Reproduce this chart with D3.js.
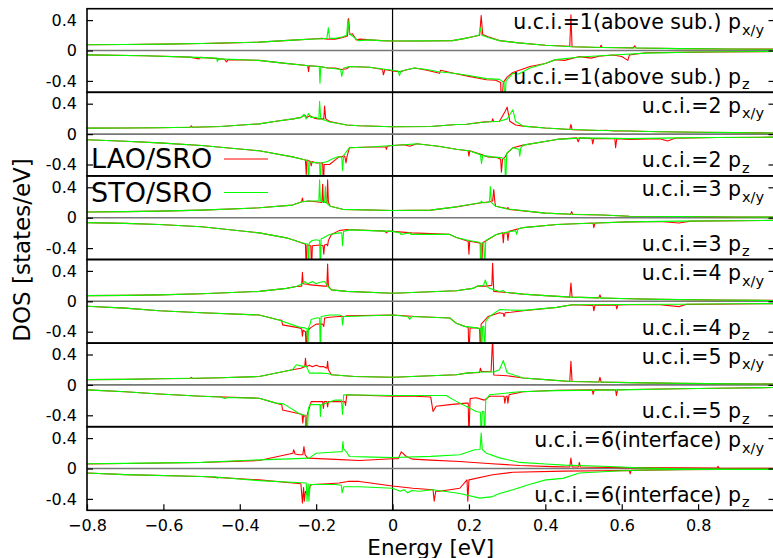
<!DOCTYPE html>
<html>
<head>
<meta charset="utf-8">
<script src="https://cdnjs.cloudflare.com/ajax/libs/d3/7.8.5/d3.min.js"></script>
<style>
body { margin: 0; background: #fff; }
svg { display: block; font-family: 'DejaVu Sans', sans-serif; }
</style>
</head>
<body>
<svg id="chart" width="773" height="558"></svg>
<script>
var energyTicks = [-0.8, -0.6, -0.4, -0.2, 0, 0.2, 0.4, 0.6, 0.8];
var dosTicks = [-0.4, 0, 0.4];
var layerNames = ['u.c.i.=1(above sub.)', 'u.c.i.=2', 'u.c.i.=3', 'u.c.i.=4', 'u.c.i.=5', 'u.c.i.=6(interface)'];
var seriesNames = ['LAO/SRO', 'STO/SRO'];
var seriesColors = ['#ff0000', '#00ff00'];

// [energy, DOS] pairs, pz stored as drawn (negative)
var lao_pxy_1 = [[-0.8,0.075],[-0.7,0.078],[-0.6,0.084],[-0.5,0.092],[-0.45,0.097],[-0.35,0.11],[-0.25,0.14],[-0.2,0.155],[-0.185,0.16],[-0.17,0.15],[-0.15,0.15],[-0.13,0.17],[-0.118,0.19],[-0.115,0.42],[-0.112,0.21],[-0.105,0.22],[-0.095,0.14],[-0.085,0.15],[-0.06,0.14],[-0.03,0.13],[0,0.125],[0.08,0.125],[0.157,0.13],[0.19,0.16],[0.21,0.18],[0.228,0.2],[0.232,0.46],[0.236,0.21],[0.25,0.18],[0.28,0.13],[0.33,0.1],[0.4,0.07],[0.464,0.055],[0.467,0.47],[0.47,0.05],[0.543,0.04],[0.546,0.07],[0.549,0.04],[0.63,0.035],[0.634,0.06],[0.638,0.033],[0.75,0.025],[0.88,0.02],[1.0,0.018]];
var sto_pxy_1 = [[-0.8,0.075],[-0.7,0.079],[-0.6,0.084],[-0.5,0.093],[-0.45,0.098],[-0.35,0.11],[-0.25,0.14],[-0.19,0.155],[-0.172,0.16],[-0.168,0.3],[-0.165,0.16],[-0.15,0.16],[-0.13,0.18],[-0.12,0.2],[-0.117,0.41],[-0.113,0.22],[-0.108,0.2],[-0.1,0.17],[-0.09,0.13],[-0.06,0.14],[-0.03,0.13],[0,0.125],[0.08,0.126],[0.157,0.13],[0.19,0.16],[0.21,0.18],[0.226,0.2],[0.23,0.3],[0.234,0.2],[0.25,0.17],[0.28,0.13],[0.33,0.1],[0.4,0.07],[0.47,0.05],[0.55,0.04],[0.65,0.032],[0.75,0.025],[0.88,0.02],[1.0,0.016]];
var lao_pz_1 = [[-0.8,-0.057],[-0.65,-0.07],[-0.53,-0.087],[-0.507,-0.11],[-0.503,-0.09],[-0.44,-0.115],[-0.435,-0.15],[-0.43,-0.12],[-0.35,-0.13],[-0.28,-0.17],[-0.23,-0.195],[-0.222,-0.2],[-0.22,-0.28],[-0.218,-0.2],[-0.19,-0.21],[-0.17,-0.23],[-0.15,-0.23],[-0.134,-0.25],[-0.12,-0.24],[-0.113,-0.21],[-0.06,-0.22],[-0.026,-0.25],[-0.024,-0.32],[-0.02,-0.25],[0,-0.27],[0.02,-0.28],[0.04,-0.25],[0.058,-0.23],[0.09,-0.26],[0.123,-0.3],[0.126,-0.26],[0.16,-0.3],[0.2,-0.34],[0.246,-0.385],[0.27,-0.39],[0.283,-0.42],[0.285,-0.75],[0.29,-0.42],[0.3,-0.35],[0.315,-0.29],[0.36,-0.21],[0.4,-0.17],[0.427,-0.12],[0.45,-0.13],[0.49,-0.08],[0.52,-0.1],[0.54,-0.075],[0.577,-0.06],[0.6,-0.08],[0.616,-0.13],[0.62,-0.06],[0.663,-0.03],[0.75,-0.025],[0.85,-0.02],[1.0,-0.013]];
var sto_pz_1 = [[-0.8,-0.057],[-0.65,-0.07],[-0.53,-0.087],[-0.46,-0.1],[-0.459,-0.145],[-0.455,-0.11],[-0.35,-0.13],[-0.28,-0.17],[-0.22,-0.2],[-0.192,-0.21],[-0.19,-0.43],[-0.188,-0.21],[-0.17,-0.23],[-0.15,-0.24],[-0.136,-0.25],[-0.133,-0.34],[-0.128,-0.23],[-0.113,-0.21],[-0.06,-0.22],[-0.03,-0.24],[0,-0.26],[0.015,-0.27],[0.018,-0.33],[0.022,-0.27],[0.04,-0.25],[0.058,-0.23],[0.09,-0.25],[0.12,-0.28],[0.16,-0.3],[0.2,-0.33],[0.246,-0.37],[0.28,-0.38],[0.292,-0.42],[0.294,-0.75],[0.297,-0.4],[0.315,-0.3],[0.33,-0.31],[0.36,-0.23],[0.4,-0.17],[0.427,-0.12],[0.49,-0.085],[0.577,-0.06],[0.663,-0.035],[0.8,-0.02],[1.0,-0.013]];

var lao_pxy_2 = [[-0.8,0.079],[-0.7,0.08],[-0.611,0.083],[-0.53,0.09],[-0.527,0.11],[-0.524,0.09],[-0.45,0.1],[-0.349,0.135],[-0.305,0.17],[-0.26,0.2],[-0.239,0.22],[-0.23,0.25],[-0.225,0.22],[-0.215,0.24],[-0.205,0.21],[-0.195,0.2],[-0.18,0.2],[-0.178,0.37],[-0.175,0.2],[-0.165,0.165],[-0.12,0.12],[-0.087,0.11],[0,0.096],[0.1,0.1],[0.167,0.127],[0.194,0.13],[0.236,0.158],[0.26,0.165],[0.262,0.2],[0.265,0.165],[0.28,0.17],[0.295,0.3],[0.3,0.355],[0.307,0.17],[0.322,0.12],[0.342,0.105],[0.4,0.08],[0.464,0.06],[0.467,0.127],[0.47,0.058],[0.54,0.048],[0.56,0.05],[0.58,0.04],[0.62,0.04],[0.7,0.03],[0.8,0.025],[0.9,0.02],[1.0,0.015]];
var sto_pxy_2 = [[-0.8,0.079],[-0.7,0.08],[-0.611,0.083],[-0.5,0.093],[-0.45,0.1],[-0.349,0.135],[-0.305,0.17],[-0.26,0.2],[-0.239,0.22],[-0.232,0.26],[-0.226,0.2],[-0.22,0.27],[-0.214,0.22],[-0.2,0.22],[-0.193,0.2],[-0.191,0.43],[-0.188,0.2],[-0.175,0.18],[-0.165,0.16],[-0.12,0.12],[-0.087,0.11],[0,0.096],[0.1,0.1],[0.167,0.127],[0.194,0.13],[0.236,0.155],[0.28,0.17],[0.3,0.2],[0.31,0.28],[0.315,0.32],[0.322,0.17],[0.342,0.105],[0.4,0.08],[0.47,0.06],[0.55,0.048],[0.62,0.04],[0.7,0.03],[0.8,0.024],[0.9,0.019],[1.0,0.014]];
var lao_pz_2 = [[-0.8,-0.075],[-0.7,-0.095],[-0.611,-0.115],[-0.5,-0.15],[-0.349,-0.22],[-0.262,-0.3],[-0.236,-0.33],[-0.228,-0.34],[-0.226,-0.53],[-0.224,-0.34],[-0.215,-0.36],[-0.213,-0.42],[-0.211,-0.36],[-0.2,-0.38],[-0.183,-0.38],[-0.181,-0.7],[-0.179,-0.4],[-0.165,-0.4],[-0.15,-0.34],[-0.14,-0.3],[-0.125,-0.29],[-0.122,-0.38],[-0.119,-0.29],[-0.113,-0.18],[-0.06,-0.17],[-0.018,-0.17],[-0.016,-0.2],[-0.014,-0.16],[0,-0.15],[0.03,-0.14],[0.045,-0.16],[0.063,-0.128],[0.12,-0.16],[0.167,-0.2],[0.198,-0.22],[0.2,-0.29],[0.202,-0.22],[0.233,-0.27],[0.25,-0.3],[0.275,-0.31],[0.283,-0.33],[0.285,-0.5],[0.288,-0.33],[0.295,-0.3],[0.3,-0.25],[0.315,-0.18],[0.342,-0.145],[0.43,-0.07],[0.482,-0.05],[0.486,-0.1],[0.49,-0.05],[0.522,-0.06],[0.524,-0.13],[0.527,-0.06],[0.582,-0.06],[0.584,-0.18],[0.587,-0.06],[0.62,-0.07],[0.7,-0.06],[0.72,-0.09],[0.74,-0.055],[0.85,-0.045],[1.0,-0.04]];
var sto_pz_2 = [[-0.8,-0.075],[-0.7,-0.095],[-0.611,-0.115],[-0.5,-0.15],[-0.349,-0.22],[-0.262,-0.3],[-0.236,-0.33],[-0.222,-0.35],[-0.22,-0.7],[-0.218,-0.36],[-0.21,-0.38],[-0.2,-0.37],[-0.191,-0.38],[-0.189,-0.7],[-0.187,-0.38],[-0.17,-0.36],[-0.16,-0.33],[-0.145,-0.3],[-0.133,-0.3],[-0.131,-0.48],[-0.128,-0.28],[-0.113,-0.18],[-0.06,-0.17],[0,-0.15],[0.03,-0.14],[0.063,-0.128],[0.12,-0.16],[0.167,-0.2],[0.2,-0.22],[0.23,-0.27],[0.233,-0.39],[0.236,-0.28],[0.26,-0.3],[0.285,-0.31],[0.294,-0.33],[0.296,-0.7],[0.299,-0.25],[0.315,-0.18],[0.331,-0.2],[0.333,-0.29],[0.336,-0.18],[0.342,-0.145],[0.43,-0.07],[0.5,-0.05],[0.62,-0.06],[0.75,-0.05],[0.85,-0.045],[1.0,-0.04]];

var lao_pxy_3 = [[-0.8,0.075],[-0.7,0.08],[-0.611,0.087],[-0.5,0.1],[-0.349,0.13],[-0.262,0.166],[-0.238,0.21],[-0.236,0.26],[-0.234,0.21],[-0.22,0.22],[-0.2,0.21],[-0.185,0.2],[-0.183,0.44],[-0.181,0.2],[-0.172,0.2],[-0.17,0.5],[-0.168,0.2],[-0.163,0.15],[-0.131,0.11],[0,0.095],[0.1,0.1],[0.167,0.143],[0.233,0.196],[0.255,0.21],[0.262,0.22],[0.265,0.37],[0.268,0.2],[0.27,0.15],[0.3,0.12],[0.302,0.135],[0.305,0.11],[0.4,0.06],[0.466,0.045],[0.469,0.08],[0.472,0.043],[0.55,0.035],[0.62,0.02],[0.75,0.015],[0.9,0.01],[1.0,0.008]];
var sto_pxy_3 = [[-0.8,0.075],[-0.7,0.08],[-0.611,0.087],[-0.5,0.1],[-0.349,0.13],[-0.262,0.166],[-0.236,0.21],[-0.22,0.22],[-0.2,0.22],[-0.193,0.22],[-0.191,0.5],[-0.189,0.22],[-0.178,0.2],[-0.176,0.41],[-0.174,0.2],[-0.163,0.15],[-0.131,0.11],[0,0.095],[0.1,0.1],[0.167,0.143],[0.23,0.196],[0.233,0.22],[0.236,0.196],[0.25,0.2],[0.254,0.22],[0.256,0.41],[0.259,0.2],[0.27,0.15],[0.3,0.115],[0.4,0.06],[0.47,0.045],[0.55,0.035],[0.62,0.02],[0.75,0.015],[0.9,0.01],[1.0,0.007]];
var lao_pz_3 = [[-0.8,-0.065],[-0.7,-0.075],[-0.611,-0.09],[-0.5,-0.12],[-0.349,-0.2],[-0.278,-0.265],[-0.244,-0.32],[-0.228,-0.35],[-0.226,-0.7],[-0.224,-0.36],[-0.214,-0.37],[-0.212,-0.7],[-0.21,-0.37],[-0.19,-0.36],[-0.182,-0.37],[-0.18,-0.48],[-0.178,-0.36],[-0.172,-0.35],[-0.17,-0.37],[-0.168,-0.3],[-0.16,-0.22],[-0.14,-0.17],[-0.12,-0.155],[-0.02,-0.176],[-0.016,-0.2],[-0.012,-0.176],[0,-0.18],[0.05,-0.2],[0.15,-0.22],[0.167,-0.26],[0.198,-0.31],[0.2,-0.48],[0.202,-0.31],[0.224,-0.33],[0.231,-0.34],[0.233,-0.7],[0.236,-0.33],[0.246,-0.3],[0.272,-0.22],[0.288,-0.2],[0.29,-0.33],[0.292,-0.2],[0.3,-0.2],[0.302,-0.3],[0.305,-0.18],[0.342,-0.13],[0.43,-0.09],[0.525,-0.07],[0.527,-0.13],[0.53,-0.07],[0.62,-0.055],[0.7,-0.05],[0.75,-0.07],[0.78,-0.045],[0.9,-0.04],[1.0,-0.035]];
var sto_pz_3 = [[-0.8,-0.065],[-0.7,-0.075],[-0.611,-0.09],[-0.5,-0.12],[-0.349,-0.2],[-0.278,-0.265],[-0.244,-0.32],[-0.222,-0.35],[-0.22,-0.7],[-0.218,-0.33],[-0.21,-0.3],[-0.2,-0.29],[-0.191,-0.3],[-0.189,-0.7],[-0.187,-0.28],[-0.165,-0.22],[-0.14,-0.2],[-0.133,-0.2],[-0.131,-0.37],[-0.128,-0.18],[-0.113,-0.16],[0,-0.18],[0.02,-0.2],[0.022,-0.22],[0.045,-0.2],[0.048,-0.22],[0.15,-0.22],[0.167,-0.26],[0.2,-0.3],[0.224,-0.32],[0.229,-0.33],[0.231,-0.7],[0.234,-0.33],[0.239,-0.33],[0.241,-0.7],[0.244,-0.3],[0.272,-0.22],[0.3,-0.19],[0.322,-0.17],[0.325,-0.22],[0.328,-0.15],[0.342,-0.13],[0.43,-0.09],[0.535,-0.07],[0.62,-0.055],[0.75,-0.045],[0.9,-0.04],[1.0,-0.035]];

var lao_pxy_4 = [[-0.8,0.075],[-0.7,0.078],[-0.611,0.085],[-0.5,0.1],[-0.349,0.13],[-0.278,0.17],[-0.252,0.195],[-0.238,0.2],[-0.236,0.38],[-0.234,0.23],[-0.22,0.22],[-0.2,0.21],[-0.18,0.2],[-0.172,0.2],[-0.17,0.49],[-0.168,0.2],[-0.16,0.15],[-0.12,0.13],[0,0.105],[0.167,0.138],[0.21,0.17],[0.223,0.2],[0.245,0.2],[0.26,0.21],[0.262,0.5],[0.265,0.13],[0.29,0.12],[0.342,0.095],[0.4,0.075],[0.464,0.055],[0.467,0.24],[0.47,0.055],[0.54,0.045],[0.543,0.085],[0.546,0.043],[0.62,0.033],[0.7,0.025],[0.85,0.018],[1.0,0.012]];
var sto_pxy_4 = [[-0.8,0.075],[-0.7,0.078],[-0.611,0.085],[-0.5,0.1],[-0.349,0.13],[-0.278,0.17],[-0.252,0.195],[-0.236,0.23],[-0.23,0.26],[-0.222,0.23],[-0.21,0.26],[-0.2,0.23],[-0.19,0.25],[-0.178,0.26],[-0.17,0.2],[-0.16,0.15],[-0.12,0.13],[0,0.105],[0.167,0.138],[0.21,0.17],[0.223,0.2],[0.238,0.21],[0.243,0.28],[0.248,0.19],[0.254,0.17],[0.28,0.13],[0.29,0.14],[0.295,0.12],[0.342,0.095],[0.4,0.075],[0.47,0.055],[0.54,0.045],[0.62,0.033],[0.7,0.025],[0.85,0.017],[1.0,0.011]];
var lao_pz_4 = [[-0.8,-0.065],[-0.7,-0.09],[-0.611,-0.125],[-0.5,-0.15],[-0.349,-0.18],[-0.3,-0.243],[-0.29,-0.25],[-0.288,-0.31],[-0.244,-0.35],[-0.238,-0.36],[-0.236,-0.46],[-0.234,-0.38],[-0.228,-0.4],[-0.226,-0.7],[-0.224,-0.4],[-0.215,-0.35],[-0.2,-0.3],[-0.183,-0.3],[-0.18,-0.33],[-0.178,-0.22],[-0.165,-0.21],[-0.14,-0.2],[-0.125,-0.2],[-0.12,-0.19],[0,-0.18],[0.06,-0.2],[0.15,-0.22],[0.167,-0.29],[0.189,-0.33],[0.198,-0.34],[0.2,-0.7],[0.203,-0.35],[0.22,-0.35],[0.228,-0.36],[0.23,-0.7],[0.232,-0.3],[0.25,-0.2],[0.28,-0.15],[0.29,-0.16],[0.292,-0.2],[0.295,-0.15],[0.31,-0.145],[0.342,-0.125],[0.43,-0.08],[0.47,-0.046],[0.525,-0.055],[0.527,-0.125],[0.53,-0.05],[0.585,-0.05],[0.587,-0.1],[0.59,-0.048],[0.62,-0.046],[0.7,-0.045],[0.75,-0.07],[0.77,-0.04],[0.9,-0.035],[1.0,-0.03]];
var sto_pz_4 = [[-0.8,-0.065],[-0.7,-0.09],[-0.611,-0.125],[-0.5,-0.15],[-0.349,-0.18],[-0.3,-0.243],[-0.244,-0.34],[-0.23,-0.35],[-0.224,-0.36],[-0.222,-0.7],[-0.22,-0.35],[-0.216,-0.3],[-0.213,-0.24],[-0.2,-0.22],[-0.191,-0.22],[-0.189,-0.7],[-0.187,-0.2],[-0.165,-0.18],[-0.14,-0.18],[-0.133,-0.19],[-0.131,-0.31],[-0.128,-0.2],[-0.12,-0.2],[0,-0.18],[0.04,-0.2],[0.045,-0.24],[0.05,-0.2],[0.15,-0.22],[0.167,-0.29],[0.189,-0.33],[0.22,-0.35],[0.231,-0.36],[0.233,-0.7],[0.236,-0.33],[0.239,-0.33],[0.241,-0.7],[0.244,-0.26],[0.254,-0.2],[0.28,-0.11],[0.342,-0.12],[0.43,-0.08],[0.47,-0.046],[0.6,-0.042],[0.75,-0.038],[0.9,-0.033],[1.0,-0.03]];

var lao_pxy_5 = [[-0.8,0.07],[-0.7,0.073],[-0.611,0.08],[-0.53,0.085],[-0.527,0.1],[-0.524,0.085],[-0.45,0.095],[-0.349,0.11],[-0.262,0.2],[-0.24,0.22],[-0.23,0.24],[-0.228,0.35],[-0.226,0.24],[-0.218,0.26],[-0.21,0.24],[-0.2,0.26],[-0.19,0.24],[-0.18,0.24],[-0.172,0.22],[-0.17,0.31],[-0.168,0.2],[-0.16,0.133],[-0.1,0.11],[0,0.1],[0.167,0.133],[0.194,0.155],[0.228,0.165],[0.23,0.22],[0.233,0.175],[0.258,0.18],[0.262,0.62],[0.265,0.13],[0.3,0.12],[0.342,0.09],[0.4,0.07],[0.464,0.045],[0.467,0.31],[0.47,0.045],[0.54,0.038],[0.543,0.1],[0.546,0.036],[0.62,0.03],[0.75,0.02],[0.9,0.015],[1.0,0.012]];
var sto_pxy_5 = [[-0.8,0.07],[-0.7,0.073],[-0.611,0.08],[-0.45,0.095],[-0.349,0.11],[-0.262,0.2],[-0.252,0.265],[-0.24,0.25],[-0.225,0.24],[-0.218,0.155],[-0.19,0.155],[-0.17,0.15],[-0.16,0.133],[-0.1,0.11],[0,0.1],[0.167,0.133],[0.194,0.155],[0.233,0.17],[0.265,0.17],[0.28,0.2],[0.29,0.32],[0.3,0.16],[0.342,0.09],[0.4,0.07],[0.47,0.045],[0.54,0.038],[0.62,0.03],[0.75,0.02],[0.9,0.014],[1.0,0.011]];
var lao_pz_5 = [[-0.8,-0.065],[-0.7,-0.09],[-0.611,-0.12],[-0.5,-0.15],[-0.349,-0.175],[-0.305,-0.24],[-0.29,-0.26],[-0.288,-0.33],[-0.244,-0.38],[-0.237,-0.39],[-0.235,-0.5],[-0.233,-0.4],[-0.228,-0.42],[-0.226,-0.7],[-0.224,-0.4],[-0.213,-0.22],[-0.19,-0.22],[-0.183,-0.22],[-0.181,-0.31],[-0.179,-0.22],[-0.172,-0.22],[-0.17,-0.29],[-0.168,-0.22],[-0.125,-0.22],[-0.123,-0.27],[-0.12,-0.13],[0,-0.15],[0.058,-0.15],[0.1,-0.16],[0.106,-0.35],[0.114,-0.28],[0.15,-0.26],[0.193,-0.24],[0.198,-0.24],[0.2,-0.7],[0.203,-0.18],[0.219,-0.17],[0.24,-0.2],[0.254,-0.15],[0.292,-0.15],[0.294,-0.24],[0.297,-0.15],[0.3,-0.15],[0.302,-0.24],[0.305,-0.13],[0.342,-0.09],[0.43,-0.07],[0.523,-0.065],[0.525,-0.125],[0.528,-0.065],[0.584,-0.065],[0.586,-0.14],[0.589,-0.063],[0.62,-0.06],[0.75,-0.05],[0.9,-0.04],[1.0,-0.035]];
var sto_pz_5 = [[-0.8,-0.065],[-0.7,-0.09],[-0.611,-0.12],[-0.5,-0.15],[-0.45,-0.16],[-0.44,-0.18],[-0.43,-0.165],[-0.349,-0.175],[-0.305,-0.24],[-0.285,-0.25],[-0.244,-0.38],[-0.228,-0.4],[-0.224,-0.7],[-0.22,-0.3],[-0.215,-0.26],[-0.19,-0.26],[-0.189,-0.415],[-0.187,-0.26],[-0.15,-0.2],[-0.134,-0.2],[-0.131,-0.39],[-0.128,-0.13],[0,-0.14],[0.1,-0.14],[0.14,-0.14],[0.168,-0.22],[0.2,-0.3],[0.219,-0.35],[0.23,-0.36],[0.232,-0.7],[0.235,-0.35],[0.239,-0.35],[0.241,-0.7],[0.244,-0.2],[0.254,-0.13],[0.333,-0.09],[0.429,-0.075],[0.6,-0.065],[0.75,-0.05],[0.9,-0.04],[1.0,-0.035]];

var lao_pxy_6 = [[-0.8,0.06],[-0.7,0.065],[-0.6,0.072],[-0.5,0.078],[-0.349,0.105],[-0.261,0.2],[-0.259,0.246],[-0.255,0.19],[-0.245,0.18],[-0.235,0.18],[-0.232,0.29],[-0.229,0.18],[-0.222,0.137],[-0.15,0.12],[-0.087,0.105],[0,0.128],[0.015,0.13],[0.023,0.22],[0.036,0.158],[0.053,0.123],[0.1,0.11],[0.176,0.092],[0.25,0.065],[0.333,0.04],[0.42,0.025],[0.464,0.02],[0.467,0.137],[0.47,0.02],[0.487,0.02],[0.489,0.08],[0.492,0.02],[0.6,0.012],[0.75,0.008],[0.85,0.005],[0.852,0.03],[0.855,0.005],[1.0,0.004]];
var sto_pxy_6 = [[-0.8,0.062],[-0.7,0.068],[-0.6,0.074],[-0.5,0.08],[-0.349,0.114],[-0.25,0.13],[-0.218,0.137],[-0.2,0.2],[-0.17,0.21],[-0.139,0.22],[-0.132,0.22],[-0.13,0.355],[-0.128,0.26],[-0.121,0.22],[-0.113,0.158],[-0.05,0.15],[0,0.145],[0.1,0.16],[0.176,0.18],[0.215,0.246],[0.229,0.25],[0.232,0.465],[0.235,0.25],[0.246,0.2],[0.28,0.14],[0.333,0.08],[0.4,0.06],[0.45,0.045],[0.55,0.03],[0.663,0.005],[0.75,-0.005],[0.88,-0.012],[1.0,-0.012]];
var lao_pz_6 = [[-0.8,-0.06],[-0.7,-0.08],[-0.5,-0.105],[-0.45,-0.12],[-0.349,-0.15],[-0.261,-0.19],[-0.24,-0.2],[-0.236,-0.455],[-0.233,-0.25],[-0.231,-0.43],[-0.228,-0.3],[-0.222,-0.35],[-0.215,-0.22],[-0.209,-0.21],[-0.17,-0.2],[-0.14,-0.19],[-0.117,-0.17],[-0.087,-0.17],[0,-0.23],[0.053,-0.26],[0.106,-0.28],[0.109,-0.43],[0.113,-0.3],[0.123,-0.3],[0.176,-0.26],[0.195,-0.15],[0.197,-0.43],[0.2,-0.15],[0.262,-0.083],[0.315,-0.05],[0.45,-0.035],[0.55,-0.03],[0.62,-0.025],[0.622,-0.07],[0.625,-0.025],[0.75,-0.015],[1.0,-0.01]];
var sto_pz_6 = [[-0.8,-0.06],[-0.7,-0.08],[-0.5,-0.105],[-0.462,-0.11],[-0.459,-0.13],[-0.455,-0.115],[-0.349,-0.16],[-0.226,-0.19],[-0.224,-0.43],[-0.221,-0.2],[-0.219,-0.43],[-0.216,-0.21],[-0.15,-0.21],[-0.134,-0.22],[-0.132,-0.32],[-0.128,-0.24],[-0.087,-0.24],[0,-0.26],[0.02,-0.3],[0.03,-0.28],[0.04,-0.32],[0.05,-0.29],[0.07,-0.3],[0.106,-0.28],[0.176,-0.33],[0.228,-0.39],[0.262,-0.37],[0.28,-0.33],[0.315,-0.28],[0.358,-0.21],[0.401,-0.15],[0.446,-0.13],[0.489,-0.06],[0.6,-0.03],[0.663,-0.02],[0.8,-0.012],[1.0,-0.01]];

var layers = [
  {name: layerNames[0], lao: [lao_pxy_1, lao_pz_1], sto: [sto_pxy_1, sto_pz_1]},
  {name: layerNames[1], lao: [lao_pxy_2, lao_pz_2], sto: [sto_pxy_2, sto_pz_2]},
  {name: layerNames[2], lao: [lao_pxy_3, lao_pz_3], sto: [sto_pxy_3, sto_pz_3]},
  {name: layerNames[3], lao: [lao_pxy_4, lao_pz_4], sto: [sto_pxy_4, sto_pz_4]},
  {name: layerNames[4], lao: [lao_pxy_5, lao_pz_5], sto: [sto_pxy_5, sto_pz_5]},
  {name: layerNames[5], lao: [lao_pxy_6, lao_pz_6], sto: [sto_pxy_6, sto_pz_6]}
];

var svg = d3.select('#chart');
var left = 87, right = 774.5, top0 = 8.7, bottom = 510.3;
var groupH = (bottom - top0) / layers.length;

var x = d3.scaleLinear().domain([-0.8, 1.0]).range([left, right]);

// Fermi level
svg.append('line')
    .attr('x1', x(0)).attr('x2', x(0))
    .attr('y1', top0).attr('y2', bottom)
    .attr('stroke', '#000').attr('stroke-width', 1.2);

layers.forEach(function(layer, i) {
  var t = top0 + i * groupH;
  var y = d3.scaleLinear().domain([-0.55, 0.55]).range([t + groupH, t]);
  var line = d3.line().x(function(d) { return x(d[0]) }).y(function(d) { return y(d[1]) });

  svg.append('clipPath').attr('id', 'clip' + i)
    .append('rect').attr('x', left).attr('y', t).attr('width', right - left).attr('height', groupH);

  var g = svg.append('g').attr('clip-path', 'url(#clip' + i + ')');

  g.append('line')
      .attr('x1', left).attr('x2', right)
      .attr('y1', y(0)).attr('y2', y(0))
      .attr('stroke', '#777').attr('stroke-width', 1.6);

  [layer.lao, layer.sto].forEach(function(curves, s) {
    curves.forEach(function(c) {
      g.append('path')
          .attr('d', line(c))
          .attr('fill', 'none')
          .attr('stroke', seriesColors[s])
          .attr('stroke-width', 1.1)
          .attr('stroke-linejoin', 'round');
    });
  });

  var yAxis = svg.append('g')
      .attr('transform', 'translate(' + left + ',0)')
      .call(d3.axisLeft(y).tickValues(dosTicks).tickSize(-6).tickSizeOuter(0).tickPadding(10)
        .tickFormat(function(d) { return String(d) }));
  yAxis.select('.domain').remove();
  yAxis.selectAll('text').attr('font-size', 16).attr('font-family', 'DejaVu Sans').attr('fill', '#000');
  yAxis.selectAll('line').attr('stroke-width', 1.2);

  var yRight = svg.append('g')
      .attr('transform', 'translate(' + right + ',0)')
      .call(d3.axisRight(y).tickValues(dosTicks).tickSize(-6).tickSizeOuter(0).tickFormat(''));
  yRight.select('.domain').remove();
  yRight.selectAll('line').attr('stroke-width', 1.2);

  // layer labels
  svg.append('text').attr('x', 741).attr('y', t + 20.5)
      .attr('text-anchor', 'end').attr('font-size', 20.5).text(layer.name + ' p');
  svg.append('text').attr('x', 742).attr('y', t + 26).attr('font-size', 14.5).text('x/y');
  svg.append('text').attr('x', 741).attr('y', t + 75)
      .attr('text-anchor', 'end').attr('font-size', 20.5).text(layer.name + ' p');
  svg.append('text').attr('x', 742).attr('y', t + 80.5).attr('font-size', 14.5).text('z');

  svg.append('rect')
      .attr('x', left).attr('y', t).attr('width', right - left).attr('height', groupH)
      .attr('fill', 'none').attr('stroke', '#000').attr('stroke-width', 1.6);
});

var xAxis = svg.append('g')
    .attr('transform', 'translate(0,' + bottom + ')')
    .call(d3.axisBottom(x).tickValues(energyTicks).tickSize(-6).tickSizeOuter(0).tickPadding(9)
      .tickFormat(function(d) { return d === 0 ? '0' : d3.format('.1f')(d) }));
xAxis.select('.domain').remove();
xAxis.selectAll('text').attr('font-size', 16).attr('font-family', 'DejaVu Sans').attr('fill', '#000');
xAxis.selectAll('line').attr('stroke-width', 1.2);

svg.append('text')
    .attr('x', (left + right) / 2).attr('y', 554.5)
    .attr('text-anchor', 'middle').attr('font-size', 21.5)
    .text('Energy [eV]');

svg.append('text')
    .attr('transform', 'translate(30,250) rotate(-90)')
    .attr('text-anchor', 'middle').attr('font-size', 23)
    .text('DOS [states/eV]');

// key
var legendY = [168, 201.5];
seriesNames.forEach(function(name, s) {
  svg.append('text').attr('x', 91).attr('y', legendY[s])
      .attr('font-size', 27).text(name);
  svg.append('line')
      .attr('x1', 224).attr('x2', 268)
      .attr('y1', legendY[s] - 9).attr('y2', legendY[s] - 9)
      .attr('stroke', seriesColors[s]).attr('stroke-width', 1.1);
});
</script>
</body>
</html>
